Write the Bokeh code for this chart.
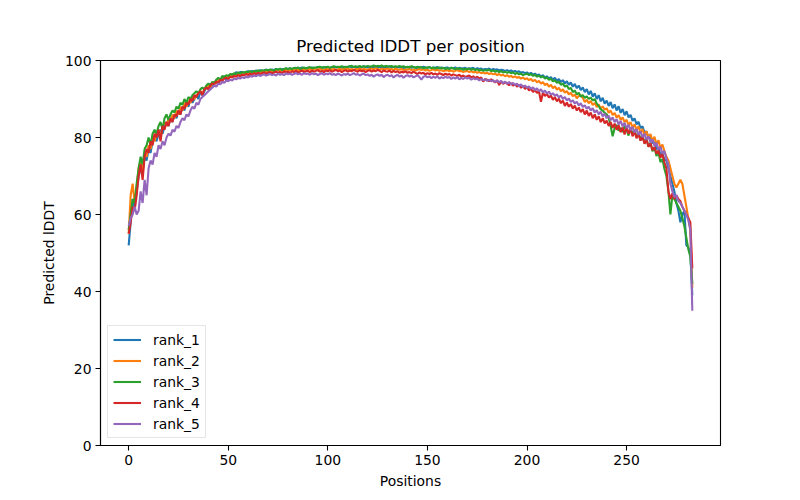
from bokeh.plotting import figure
from bokeh.models import Range1d, Legend, LegendItem, FixedTicker
from bokeh.embed import file_html
from bokeh.resources import INLINE

series_names = ["rank_1", "rank_2", "rank_3", "rank_4", "rank_5"]
series_colors = ["#1f77b4", "#ff7f0e", "#2ca02c", "#d62728", "#9467bd"]
x_ticks = [0, 50, 100, 150, 200, 250]
y_ticks = [0, 20, 40, 60, 80, 100]

rank_1 = [
    52, 58, 64, 62, 66, 70, 72, 71, 75, 74,
    77, 76, 79, 80, 79, 81, 82, 81, 83, 84,
    83, 85, 84, 86, 85, 87, 86, 88, 87, 89,
    88, 90, 89, 90, 91, 90, 92, 91, 92, 93,
    93, 94, 93, 94, 95, 94, 95, 95, 96, 95,
    96, 96, 96.5, 96, 97, 96.5, 97, 97, 96.8, 97,
    97.2, 97, 97.3, 97.1, 97.4, 97.2, 97.5, 97.3, 97.4, 97.6,
    97.5, 97.3, 97.7, 97.5, 97.8, 97.6, 97.4, 97.8, 97.7, 97.9,
    97.8, 98, 97.7, 97.9, 98.1, 97.8, 98, 98.2, 97.9, 98,
    98.1, 97.9, 98.2, 98, 98.1, 98.3, 98, 98.2, 98.1, 98.3,
    98.2, 98, 98.3, 98.1, 98.4, 98.2, 98.3, 98.1, 98.4, 98.2,
    98.3, 98.5, 98.2, 98.4, 98.3, 98.1, 98.4, 98.2, 98.5, 98.3,
    98.2, 98.4, 98.1, 98.3, 98.5, 98.2, 98.4, 98.3, 98.1, 98.4,
    98.3, 98.5, 98.2, 98.4, 98.1, 98.3, 98.2, 98.4, 98, 98.3,
    98.2, 98.4, 98.1, 98.3, 98.2, 98, 98.3, 98.1, 98.4, 98.2,
    98.1, 98.3, 98, 98.2, 98.1, 98.3, 97.9, 98.2, 98, 98.1,
    98.2, 97.9, 98.1, 98, 98.2, 97.8, 98.1, 97.9, 98, 98.1,
    97.8, 98, 97.9, 98.1, 97.7, 98, 97.8, 97.9, 97.6, 97.8,
    97.7, 97.9, 97.5, 97.8, 97.6, 97.7, 97.4, 97.6, 97.5, 97.3,
    97.5, 97.2, 97.4, 97.1, 97.3, 97, 97.2, 96.8, 97, 96.7,
    96.9, 96.5, 96.8, 96.3, 96.6, 96.1, 96.4, 95.8, 96.2, 95.6,
    95.9, 95.3, 95.7, 95, 95.5, 94.7, 95.2, 94.4, 94.9, 94,
    94.6, 93.7, 94.3, 93.2, 93.9, 92.8, 93.5, 92.3, 93, 91.8,
    92.6, 91.2, 92.1, 90.6, 91.5, 90, 91, 89.4, 90.3, 88.8,
    89.6, 88.2, 89.2, 87.6, 88.6, 87, 88.1, 86.4, 87.4, 85.8,
    86.8, 85.2, 85.9, 84.3, 85, 83.4, 84.1, 82.4, 82.9, 81.3,
    81.6, 79.8, 80.2, 78.5, 78.8, 77, 77.3, 75.5, 75.8, 74.2,
    74, 72, 70, 68, 66, 63, 61, 58, 60, 61,
    52, 51.5, 50, 39,
]

rank_2 = [
    55, 65, 68, 63, 67, 72, 74, 71, 76, 75,
    78, 77, 80, 79, 81, 82, 80, 83, 84, 83,
    85, 84, 86, 85, 87, 86, 88, 87, 89, 88,
    89.5, 89, 90.5, 90, 91, 91.5, 92, 91.5, 92.5, 93,
    93.5, 93, 94, 94.5, 94, 95, 95.2, 94.8, 95.5, 95.8,
    95.6, 96, 96.2, 95.9, 96.4, 96.2, 96.6, 96.3, 96.8, 96.5,
    96.9, 96.7, 97, 96.8, 97.1, 96.9, 97.2, 96.9, 97.1, 97.3,
    97, 97.2, 97.4, 97.1, 97.3, 97.5, 97.2, 97.4, 97.3, 97.6,
    97.4, 97.6, 97.3, 97.7, 97.5, 97.6, 97.4, 97.8, 97.5, 97.7,
    97.6, 97.8, 97.5, 97.7, 97.9, 97.6, 97.8, 97.7, 97.5, 97.8,
    97.7, 97.9, 97.6, 97.8, 97.5, 97.7, 97.9, 97.6, 97.8, 97.7,
    97.9, 97.6, 97.8, 97.5, 97.8, 97.7, 97.9, 97.6, 97.8, 97.7,
    97.6, 97.8, 97.9, 97.7, 98, 97.8, 97.6, 97.9, 97.7, 97.8,
    97.9, 97.7, 97.8, 97.5, 97.9, 97.7, 97.6, 97.8, 97.5, 97.7,
    97.6, 97.8, 97.5, 97.7, 97.4, 97.6, 97.8, 97.5, 97.7, 97.4,
    97.6, 97.3, 97.5, 97.7, 97.4, 97.6, 97.3, 97.5, 97.2, 97.4,
    97.5, 97.2, 97.4, 97.1, 97.3, 97.5, 97.2, 97.3, 97, 97.2,
    97.3, 97, 97.2, 96.9, 97.1, 96.8, 97, 96.7, 96.9, 96.6,
    96.8, 96.5, 96.7, 96.4, 96.6, 96.2, 96.5, 96.1, 96.3, 95.9,
    96.2, 95.8, 96, 95.6, 95.9, 95.5, 95.7, 95.3, 95.6, 95.1,
    95.4, 94.9, 95.2, 94.6, 95, 94.3, 94.7, 94, 94.4, 93.6,
    94, 93.2, 93.7, 92.8, 93.3, 92.4, 92.9, 92, 92.5, 91.6,
    92.1, 91.2, 91.6, 90.7, 91.2, 90.2, 90.8, 91, 90.3, 89.2,
    89.8, 88.9, 89.5, 88.4, 89, 87.9, 88.6, 87.5, 88.1, 87.2,
    87.6, 86.4, 87, 85.8, 86.4, 85.2, 85.8, 84.6, 85.2, 84,
    84.6, 83.2, 84, 82.6, 83.4, 81.9, 82.9, 81.2, 82.2, 80.6,
    81.6, 79.8, 80.9, 79, 80.2, 78.2, 79.3, 77.3, 78.2, 76.4,
    75, 74, 72, 70, 68, 67, 68, 69, 68, 65,
    62, 59, 56, 41,
]

rank_3 = [
    56, 60, 64, 63, 68, 72, 75, 73, 77, 78,
    80, 78, 81, 82, 81, 83, 84, 82, 85, 86,
    84.5, 86, 87, 86.5, 88, 87.5, 89, 88.5, 90, 89,
    90.5, 90, 91, 91.5, 92, 91.5, 92.5, 93, 92.5, 93.5,
    94, 93.5, 94.5, 94, 95, 95.5, 95, 96, 95.7, 96.2,
    96, 96.5, 96.3, 96.7, 96.5, 96.9, 96.6, 97, 96.8, 97.1,
    97, 97.2, 96.9, 97.3, 97.1, 97.4, 97.2, 97.5, 97.3, 97.6,
    97.4, 97.7, 97.5, 97.3, 97.8, 97.6, 97.9, 97.5, 97.8, 98,
    97.7, 98, 97.8, 98.1, 97.9, 98.2, 97.8, 98, 98.2, 97.9,
    98.1, 98.3, 98, 98.2, 98.1, 98.3, 98.4, 98.1, 98.3, 98.2,
    98.4, 98.1, 98.3, 98.5, 98.2, 98.4, 98.3, 98.5, 98.2, 98.4,
    98.3, 98.5, 98.6, 98.3, 98.5, 98.4, 98.6, 98.3, 98.5, 98.4,
    98.6, 98.4, 98.5, 98.7, 98.4, 98.6, 98.5, 98.7, 98.4, 98.6,
    98.5, 98.4, 98.6, 98.3, 98.5, 98.4, 98.6, 98.3, 98.5, 98.2,
    98.4, 98.2, 98.5, 98.3, 98.1, 98.4, 98.2, 98.3, 98, 98.2,
    98.1, 98.3, 98, 98.2, 97.9, 98.1, 98.2, 97.9, 98.1, 97.8,
    98, 97.8, 98.1, 97.9, 97.7, 98, 97.8, 97.9, 97.6, 97.8,
    97.7, 97.9, 97.6, 97.8, 97.5, 97.7, 97.4, 97.6, 97.3, 97.5,
    97.4, 97.6, 97.2, 97.4, 97.1, 97.3, 97, 97.2, 96.9, 97.1,
    96.8, 97, 96.7, 96.9, 96.5, 96.8, 96.4, 96.6, 96.2, 96.4,
    96.6, 96.2, 96.5, 96, 96.3, 95.8, 96.1, 95.6, 95.9, 95.3,
    95.6, 95, 95.3, 94.6, 94.9, 94.2, 94.5, 93.7, 94, 93.2,
    93.5, 92.6, 92.9, 91.8, 92.2, 91.2, 91.6, 90.6, 91, 90.3,
    90.7, 90, 90.4, 89.6, 90, 88.8, 88.2, 87.3, 87, 86.4,
    86, 85.2, 83, 80.3, 82.4, 83.3, 81.8, 82.5, 81.4, 83,
    82, 80.5, 82.5, 80.8, 82, 80, 81.4, 79.3, 80.6, 78.5,
    79.7, 77.6, 78.6, 76.4, 77.4, 75.2, 76.1, 73.6, 74.4, 71.8,
    70, 66, 60, 65, 64, 63, 62, 61, 59, 57,
    54, 51, 49, 42,
]

rank_4 = [
    55, 58, 62, 61, 65, 70, 73, 69, 75, 77,
    76, 79, 78, 81, 80, 82, 79, 83, 82, 84,
    83, 85, 84, 86, 85.5, 87, 86, 88, 87.5, 89,
    88.5, 90, 89.5, 91, 90.5, 91.5, 92, 91, 92.5, 93,
    92.5, 93.5, 94, 93.8, 94.5, 94.2, 95, 94.7, 95.3, 95.5,
    95.2, 95.8, 95.6, 96, 95.8, 96.2, 95.9, 96.3, 96.1, 96.5,
    96.2, 96.6, 96.3, 96.7, 96.4, 96.8, 96.5, 96.7, 96.9, 96.6,
    96.8, 97, 96.7, 96.9, 97.1, 96.8, 97, 96.7, 97.2, 96.9,
    97.1, 96.8, 97.2, 97, 97.3, 96.9, 97.1, 97.4, 97, 97.2,
    97.3, 97, 97.4, 97.1, 97.3, 97.5, 97.1, 97.3, 97, 97.4,
    97.2, 97.5, 97.1, 97.3, 97.6, 97.2, 97.4, 97, 97.3, 97.5,
    97.1, 97.4, 97.2, 97.6, 97.3, 97.1, 97.5, 97.2, 97.4, 97,
    97.3, 97.5, 97.1, 97.4, 97.2, 97.6, 97.3, 97, 97.4, 97.2,
    97.1, 97.4, 96.9, 97.3, 97, 97.2, 96.8, 97.1, 96.9, 97.2,
    96.8, 97, 96.7, 97.1, 96.8, 96.5, 96.9, 96.6, 96.8, 96.4,
    96.7, 96.5, 96.8, 96.4, 96.6, 96.3, 96.7, 96.5, 96.2, 96.6,
    96.3, 96.5, 96.1, 96.4, 96.2, 96, 96.3, 95.8, 96.1, 95.7,
    95.9, 96.1, 95.6, 95.9, 95.4, 95.8, 95.3, 95.6, 94.5, 95.2,
    95, 94.6, 95.1, 94.7, 94.3, 94.9, 93.6, 94.6, 93.9, 94.4,
    94, 93.6, 94.1, 93.5, 93.8, 93.2, 93.7, 92.9, 93.4, 92.6,
    93.1, 92.2, 92.7, 91.8, 92.3, 91.6, 92, 89.3, 91.7, 90.8,
    91.3, 90.4, 90.9, 89.8, 90.5, 89.4, 90.1, 88.9, 89.6, 88.2,
    89.1, 88, 88.7, 87.5, 88.3, 87, 87.8, 86.6, 87.4, 86,
    87, 85.6, 86.5, 85, 86, 84.6, 85.5, 84, 85, 83.7,
    84.4, 83, 84, 82.5, 83.6, 82, 83.2, 81.4, 82.6, 80.8,
    82.8, 81, 82.2, 80.3, 81.6, 79.8, 80.9, 79.2, 80.2, 78.4,
    79.4, 77.6, 78.5, 76.7, 77.5, 75.8, 76.6, 74.8, 75.6, 73.5,
    72, 66, 64, 65.5, 64, 65, 64, 63.5, 62, 61,
    60, 59, 58, 46,
]

rank_5 = [
    57, 59, 60, 62, 60, 61, 66, 63, 69, 65,
    72, 74, 73, 76, 75, 78, 77, 79, 78, 80,
    81, 80.5, 82, 81.5, 83, 82.5, 84, 85, 84.5, 86,
    85.5, 87, 88, 87.5, 89, 88.5, 90, 90.5, 91, 91.5,
    92, 92.5, 93, 93.5, 93.2, 94, 93.8, 94.5, 94.2, 94.8,
    94.6, 95, 94.8, 95.3, 95.1, 95.5, 95.3, 95.7, 95.4, 95.8,
    95.6, 96, 95.8, 96.1, 95.9, 96.3, 96, 96.2, 96.4, 96.1,
    96.3, 96.5, 96.2, 96.4, 96.1, 96.6, 96.3, 96.5, 96.2, 96.7,
    96.4, 96.6, 96.3, 96.5, 96.8, 96.4, 96.6, 96.3, 96.7, 96.5,
    96.6, 96.3, 96.7, 96.4, 96.6, 96.2, 96.5, 96.7, 96.3, 96.6,
    96.4, 96.7, 96.3, 96.5, 96.2, 96.6, 96.4, 96.1, 96.5, 96.3,
    96.6, 96.2, 96.4, 96.7, 96.3, 96.5, 96.1, 96.4, 96.6, 96.2,
    96.4, 96, 96.3, 95.8, 96.2, 96.4, 96, 96.3, 95.7, 96.1,
    96.3, 95.9, 96.2, 95.6, 96, 96.3, 95.8, 96.1, 95.5, 96,
    96.2, 95.8, 96.1, 95.6, 95.9, 96.2, 95.7, 95, 95.8, 96,
    95.6, 95.9, 95.4, 95.8, 95.5, 95.9, 95.3, 95.7, 95.4, 95.8,
    95.5, 95.7, 95.2, 95.6, 95.3, 95.7, 95.1, 95.5, 95.2, 95.6,
    95.3, 95.5, 95, 95.4, 95.1, 95.3, 94.8, 95.2, 94.9, 95.1,
    94.7, 95, 94.6, 94.9, 94.4, 94.8, 94.3, 94.7, 94.1, 94.5,
    94, 94.4, 93.8, 94.2, 93.6, 94, 93.3, 93.8, 93.1, 93.5,
    92.9, 93.3, 92.6, 93, 92.3, 92.8, 92, 92.5, 91.7, 92.2,
    91.4, 91.9, 91.1, 91.5, 90.8, 91.2, 90.4, 90.9, 90, 90.5,
    89.6, 90.1, 89.2, 89.7, 88.8, 89.3, 88.3, 88.9, 87.9, 88.4,
    87.5, 88, 87, 87.6, 86.5, 87.1, 86, 86.7, 85.5, 86.2,
    85, 85.7, 84.5, 85.2, 84, 84.8, 83.4, 84.3, 82.9, 83.8,
    82.4, 83.3, 81.9, 82.8, 81.3, 82.2, 80.7, 81.6, 80.1, 81,
    79.4, 80.3, 78.7, 79.5, 77.8, 78.6, 76.9, 77.6, 75.8, 76.5,
    74.5, 73, 68, 66, 64.5, 65, 63.5, 63, 62, 61,
    60, 58.5, 56, 35,
]

all_series = [rank_1, rank_2, rank_3, rank_4, rank_5]

FONT = "DejaVu Sans"

p = figure(width=792, height=492, output_backend="svg", toolbar_location=None,
           x_range=Range1d(-14.15, 297.15), y_range=Range1d(0, 100),
           title="Predicted lDDT per position")
p.min_border_left = 100
p.min_border_right = 72
p.min_border_top = 60
p.min_border_bottom = 47

p.title.align = "center"
p.title.text_font = FONT
p.title.text_font_style = "normal"
p.title.text_font_size = "16.7px"
p.title.text_color = "black"

p.grid.visible = False
p.outline_line_color = "black"
p.outline_line_width = 1.1
p.outline_line_alpha = 1

p.xaxis.ticker = FixedTicker(ticks=x_ticks)
p.yaxis.ticker = FixedTicker(ticks=y_ticks)
p.xaxis.axis_label = "Positions"
p.yaxis.axis_label = "Predicted lDDT"
for ax in [p.xaxis, p.yaxis]:
    ax.axis_label_text_font = FONT
    ax.axis_label_text_font_style = "normal"
    ax.axis_label_text_font_size = "13.9px"
    ax.axis_label_text_color = "black"
    ax.major_label_text_font = FONT
    ax.major_label_text_font_size = "13.9px"
    ax.major_label_text_color = "black"
    ax.axis_line_color = "black"
    ax.axis_line_width = 1.1
    ax.major_tick_line_color = "black"
    ax.major_tick_line_width = 1.1
    ax.major_tick_in = 0
    ax.major_tick_out = 5
    ax.minor_tick_line_color = None
    ax.major_label_standoff = 4
    ax.axis_label_standoff = 5

items = []
for name, color, ys in zip(series_names, series_colors, all_series):
    xs = list(range(len(ys)))
    r = p.line(xs, ys, line_color=color, line_width=2.1)
    items.append(LegendItem(label=name, renderers=[r]))

legend = Legend(items=items, location=(7, 7))
legend.border_line_color = "#cccccc"
legend.border_line_width = 1
legend.background_fill_color = "white"
legend.background_fill_alpha = 0.8
legend.padding = 5
legend.spacing = 4
legend.margin = 0
legend.label_height = 17
legend.glyph_height = 17
legend.glyph_width = 28
legend.label_standoff = 12
legend.label_text_font = FONT
legend.label_text_font_size = "13.9px"
legend.label_text_color = "black"
p.add_layout(legend)

open("out.html", "w").write(file_html(p, INLINE))
